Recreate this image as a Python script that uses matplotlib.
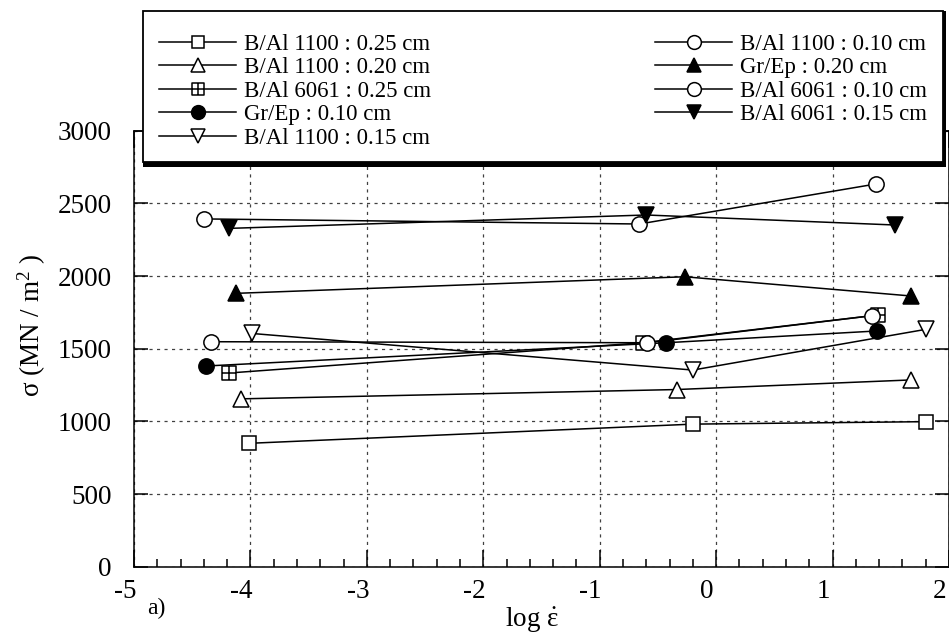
import matplotlib
matplotlib.use("Agg")
import matplotlib.pyplot as plt
from matplotlib.path import Path
from matplotlib.patches import Rectangle
from matplotlib.ticker import MultipleLocator
from matplotlib.transforms import ScaledTranslation

plt.rcParams['font.family'] = ['Liberation Serif', 'DejaVu Serif']
plt.rcParams['mathtext.fontset'] = 'custom'
plt.rcParams['mathtext.rm'] = 'Liberation Serif'
plt.rcParams['mathtext.it'] = 'Liberation Serif:italic'
plt.rcParams['axes.unicode_minus'] = False

# log strain rate / stress (MN/m^2), three tests per material
x_bal1100_025 = [-4.01, -0.20, 1.80]
y_bal1100_025 = [849, 981, 998]
x_bal1100_020 = [-4.08, -0.34, 1.67]
y_bal1100_020 = [1155, 1219, 1285]
x_bal6061_025 = [-4.18, -0.63, 1.39]
y_bal6061_025 = [1333, 1541, 1732]
x_grep_010 = [-4.38, -0.43, 1.38]
y_grep_010 = [1381, 1541, 1622]
x_bal1100_015 = [-3.99, -0.20, 1.80]
y_bal1100_015 = [1605, 1353, 1633]
x_bal1100_010 = [-4.34, -0.59, 1.34]
y_bal1100_010 = [1548, 1541, 1727]
x_grep_020 = [-4.12, -0.27, 1.67]
y_grep_020 = [1881, 1995, 1863]
x_bal6061_010 = [-4.40, -0.66, 1.37]
y_bal6061_010 = [2393, 2358, 2633]
x_bal6061_015 = [-4.18, -0.60, 1.54]
y_bal6061_015 = [2328, 2420, 2351]

labels = ['B/Al 1100 : 0.25 cm', 'B/Al 1100 : 0.20 cm', 'B/Al 6061 : 0.25 cm',
          'Gr/Ep : 0.10 cm', 'B/Al 1100 : 0.15 cm', 'B/Al 1100 : 0.10 cm',
          'Gr/Ep : 0.20 cm', 'B/Al 6061 : 0.10 cm', 'B/Al 6061 : 0.15 cm']

# square with a cross inside
box_cross = Path([(-1, -1), (1, -1), (1, 1), (-1, 1), (-1, -1),
                  (-1, 0), (1, 0), (0, -1), (0, 1)],
                 [Path.MOVETO, Path.LINETO, Path.LINETO, Path.LINETO, Path.CLOSEPOLY,
                  Path.MOVETO, Path.LINETO, Path.MOVETO, Path.LINETO])

series = [
    (x_bal1100_025, y_bal1100_025, 's', 'white', 10),
    (x_bal1100_020, y_bal1100_020, '^', 'white', 11),
    (x_bal6061_025, y_bal6061_025, box_cross, 'white', 10),
    (x_grep_010, y_grep_010, 'o', 'black', 11),
    (x_bal1100_015, y_bal1100_015, 'v', 'white', 11),
    (x_bal1100_010, y_bal1100_010, 'o', 'white', 11),
    (x_grep_020, y_grep_020, '^', 'black', 11),
    (x_bal6061_010, y_bal6061_010, 'o', 'white', 11),
    (x_bal6061_015, y_bal6061_015, 'v', 'black', 11),
]

fig = plt.figure(figsize=(9.49, 6.39), dpi=100)
ax = fig.add_axes([134 / 949, 1 - 566.7 / 639, (949 - 134) / 949, (566.7 - 130.7) / 639])

lines = []
for (xs, ys, m, fc, ms), lab in zip(series, labels):
    ln, = ax.plot(xs, ys, color='black', lw=1.1, marker=m, ms=ms, mfc=fc,
                  mec='black', mew=1.1, label=lab, zorder=3, clip_on=False)
    lines.append(ln)

ax.set_xlim(-5, 2)
ax.set_ylim(0, 3000)
ax.xaxis.set_major_locator(MultipleLocator(1))
ax.xaxis.set_minor_locator(MultipleLocator(0.2))
ax.yaxis.set_major_locator(MultipleLocator(500))
ax.tick_params(which='both', direction='in', top=True, right=True, width=1.1)
ax.tick_params(axis='x', which='major', length=12, pad=9, labelsize=19.5)
ax.tick_params(axis='x', which='minor', length=6)
ax.tick_params(axis='y', which='major', length=10, pad=16, labelsize=19.5)
ax.grid(True, which='major', color='0.25', lw=0.9, linestyle=(0, (2.5, 3.5)))
for s in ax.spines.values():
    s.set_linewidth(1.1)

shift = ScaledTranslation(-9 / 100, 0, fig.dpi_scale_trans)
for t in ax.get_xticklabels():
    t.set_transform(t.get_transform() + shift)

# legend box with heavy shadow at bottom
fig.add_artist(Rectangle((143 / 949, 1 - 167 / 639), (946 - 143) / 949, (167 - 11) / 639,
                         transform=fig.transFigure, fc='black', ec='none', zorder=10))
fig.add_artist(Rectangle((143 / 949, 1 - 162 / 639), (943 - 143) / 949, (162 - 11) / 639,
                         transform=fig.transFigure, fc='white', ec='black', lw=1.3, zorder=11))

leg_kw = dict(loc='upper left', frameon=False, fontsize=16.5, handlelength=3.36,
              handletextpad=0.35, labelspacing=0.11, borderpad=0, borderaxespad=0,
              numpoints=1, markerscale=0.9)
leg1 = fig.legend(handles=lines[:5], labels=labels[:5],
                  bbox_to_anchor=(159 / 949, 1 - 33.5 / 639), **leg_kw)
leg2 = fig.legend(handles=lines[5:], labels=labels[5:],
                  bbox_to_anchor=(655 / 949, 1 - 33.5 / 639), **leg_kw)
leg1.set_zorder(12)
leg2.set_zorder(12)

fig.text(156 / 949, 1 - 608 / 639, 'a)', fontsize=17, ha='center', va='center')
fig.text(532 / 949, 1 - 620 / 639, r'log $\dot{\mathrm{\varepsilon}}$', fontsize=19.5,
         ha='center', va='center')
fig.text(32 / 949, 1 - 325 / 639, r'σ (MN / m$^{2}$ )', fontsize=19.5, rotation=90,
         ha='center', va='center')

fig.savefig('out.png', dpi=100)
